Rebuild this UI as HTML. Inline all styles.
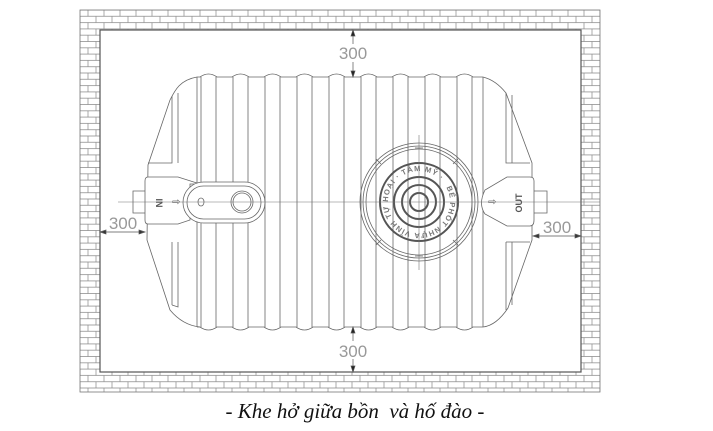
<!DOCTYPE html>
<html><head><meta charset="utf-8"><style>
html,body{margin:0;padding:0;background:#fff;width:713px;height:431px;overflow:hidden}
svg{display:block}
</style></head><body>
<svg width="713" height="431" viewBox="0 0 713 431" xmlns="http://www.w3.org/2000/svg">
<defs>
<pattern id="brick" x="80" y="10" width="16" height="12.6" patternUnits="userSpaceOnUse">
<rect width="16" height="12.6" fill="#fff"/>
<path d="M0 0H16M0 6.3H16M0 12.6H16M8 0V6.3M0 6.3V12.6M16 6.3V12.6" stroke="#888" stroke-width="0.7" fill="none"/>
</pattern>
<path id="ring" d="M445.85 186.5 A31 31 0 0 1 392.15 217.5 A31 31 0 0 1 445.85 186.5" />
</defs>
<rect x="80" y="10" width="520" height="382" fill="url(#brick)" stroke="#777" stroke-width="0.8"/>
<rect x="100" y="30" width="481" height="342" fill="#fff" stroke="#555" stroke-width="1.2"/>
<g fill="none" stroke="#666" stroke-width="0.8">
<path d="M197 77 C180 80 175 90 170 100 L148 165 L147 240 L170 310 C180 322 190 326 200 327"/>
<path d="M483 77 C495 80 502 88 506 93 L532 163 L532 240 L508 308 C500 320 492 326 483 327"/>
<path d="M197 77 H200 Q208.5 71 217 77 H232 Q240.5 71 249 77 H264 Q272.5 71 281 77 H296 Q304.5 71 313 77 H328 Q336.5 71 345 77 H360 Q368.5 71 377 77 H392 Q400.5 71 409 77 H424 Q432.5 71 441 77 H456 Q464.5 71 473 77 H483"/>
<path d="M200 327 Q208.5 333 217 327 H232 Q240.5 333 249 327 H264 Q272.5 333 281 327 H296 Q304.5 333 313 327 H328 Q336.5 333 345 327 H360 Q368.5 333 377 327 H392 Q400.5 333 409 327 H424 Q432.5 333 441 327 H456 Q464.5 333 473 327 H483 M197 327 H200"/>
<path d="M197 77V327M201 77V327M216 77V327M233 77V327M248 77V327M265 77V327M280 77V327M297 77V327M312 77V327M329 77V327M344 77V327M361 77V327M376 77V327M393 77V327M408 77V327M425 77V327M440 77V327M457 77V327M472 77V327M483 77V327"/>
<path d="M172 96 V163 H148 M178 93 V163 M172 242 V305 M178 242 V307 L172 305"/>
<path d="M506 93 V163 H530 M512 95 V163 M506 242 V310 M512 242 V305 M506 242 H530"/>
</g>
<g fill="#fff" stroke="#666" stroke-width="0.8">
<path d="M133 191 H146 V213 H133Z"/>
<path d="M148 177 H178 L200 184 H190 V220 L178 224 H148 Q145 224 145 220 V181 Q145 177 148 177Z"/>
<rect x="183" y="182" width="82" height="41" rx="20.5"/>
<rect x="187" y="186" width="74" height="33" rx="16.5"/>
<circle cx="242" cy="202" r="11"/><circle cx="242" cy="202" r="9"/>
<ellipse cx="201" cy="202" rx="3" ry="4"/>
<path d="M533 191 H547 V213 H533Z"/>
<path d="M507 177 H530 Q534 177 534 181 V220 Q534 226 530 226 H507 L485 214 Q478 204 485 190Z"/>
</g>
<g fill="none" stroke="#666">
<circle cx="419" cy="202" r="59" stroke-width="0.8"/>
<circle cx="419" cy="202" r="56" stroke-width="0.8"/>
<circle cx="419" cy="202" r="53" stroke-width="0.8"/>
<circle cx="419" cy="202" r="39" stroke-width="2" stroke="#555"/>
<circle cx="419" cy="202" r="25" stroke-width="2" stroke="#555"/>
<circle cx="419" cy="202" r="17" stroke-width="2" stroke="#555"/>
<circle cx="419" cy="202" r="9" stroke-width="2" stroke="#555"/>
<path d="M415 148 h8 M415 256 h8 M376 159 l5 5 M458 159 l-5 5 M376 245 l5 -5 M458 245 l-5 -5" stroke-width="0.8"/>
</g>
<path d="M118 202 H600 M419 135 V270" stroke="#777" stroke-width="0.6"/>
<text font-family="Liberation Sans, sans-serif" font-size="7.5" font-weight="bold" fill="#777"><textPath href="#ring" startOffset="1" textLength="185" lengthAdjust="spacing">BỂ PHỐT NHỰA VĨNH TỰ HOẠI · TÂM MỸ ·</textPath></text>
<g font-family="Liberation Sans, sans-serif" font-size="9" font-weight="bold" fill="#555">
<text x="156" y="203" transform="rotate(90 156 203)" text-anchor="middle">IN</text>
<text x="522" y="203" transform="rotate(-90 522 203)" text-anchor="middle">OUT</text>
</g>
<text x="172" y="205" font-size="10" fill="#666" font-family="DejaVu Sans, sans-serif">⇨</text>
<text x="488" y="205" font-size="10" fill="#666" font-family="DejaVu Sans, sans-serif">⇨</text>
<g stroke="#555" stroke-width="0.7" fill="#222">
<path d="M353 30 V44 M353 62 V77"/>
<path d="M353 30 l-2 6 h4z M353 77 l-2 -6 h4z"/>
<path d="M353 327 V341 M353 359 V372"/>
<path d="M353 327 l-2 6 h4z M353 372 l-2 -6 h4z"/>
<path d="M100 232 H145 M100 232 l6 -2 v4z M145 232 l-6 -2 v4z"/>
<path d="M533 236 H581 M533 236 l6 -2 v4z M581 236 l-6 -2 v4z"/>
</g>
<g font-family="Liberation Sans, sans-serif" font-size="17" fill="#999" text-anchor="middle">
<text x="353" y="59">300</text>
<text x="353" y="357">300</text>
<text x="123" y="229">300</text>
<text x="557" y="233">300</text>
</g>
<text x="355" y="418" text-anchor="middle" font-family="Liberation Serif, serif" font-style="italic" font-size="21" fill="#111" xml:space="preserve">- Khe hở giữa bồn  và hố đào -</text>
</svg>
</body></html>
